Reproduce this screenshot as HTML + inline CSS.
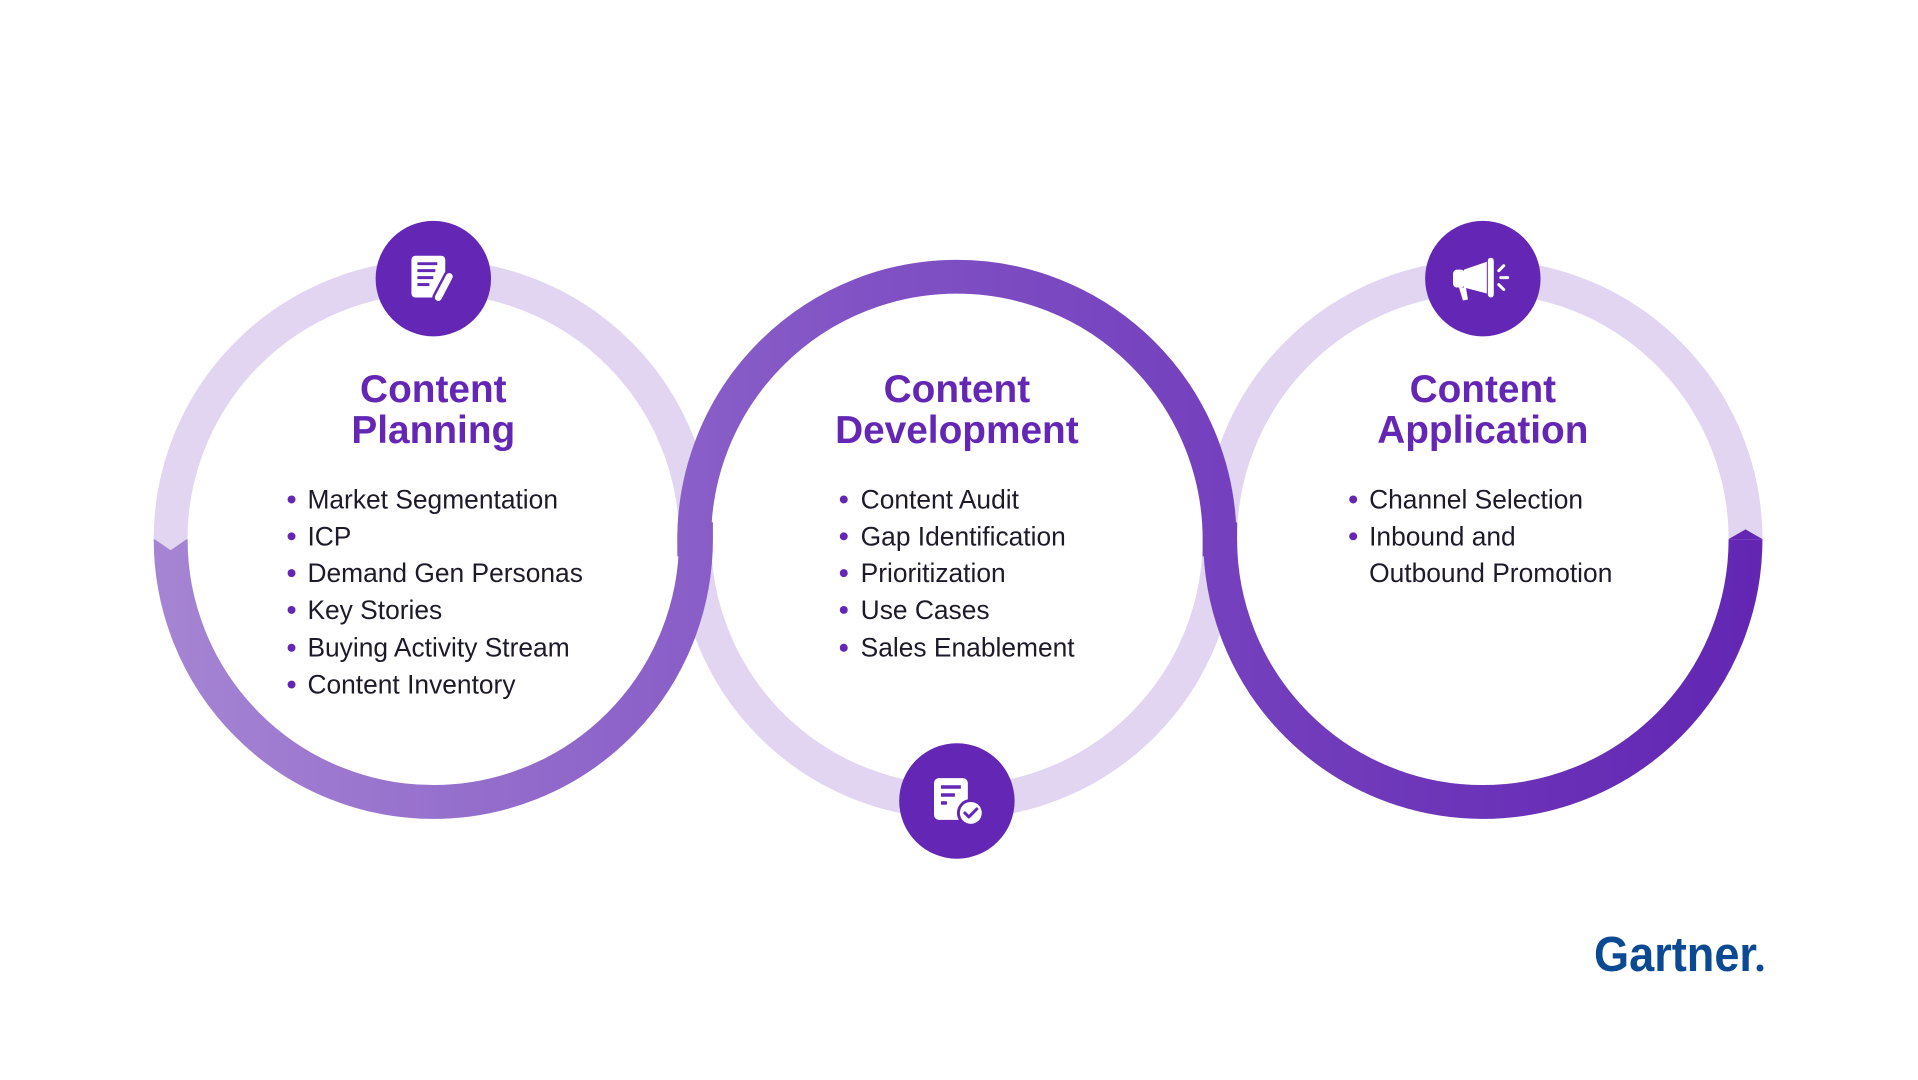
<!DOCTYPE html>
<html><head><meta charset="utf-8"><style>
html,body{margin:0;padding:0;background:#fff;}
body{width:1918px;height:1080px;overflow:hidden;position:relative;font-family:"Liberation Sans",sans-serif;}
svg{position:absolute;left:0;top:0;}
.t{font-family:"Liberation Sans",sans-serif;font-weight:bold;font-size:39px;fill:#6427b5;text-anchor:middle;}
.b{font-family:"Liberation Sans",sans-serif;font-size:26.5px;fill:#1e1a2a;}
</style></head><body>
<svg width="1918" height="1080" viewBox="0 0 1918 1080">
<defs>
<linearGradient id="g" gradientUnits="userSpaceOnUse" x1="155" y1="0" x2="1772" y2="0">
<stop offset="0" stop-color="#a585d3"/>
<stop offset="0.45" stop-color="#8051c4"/>
<stop offset="1" stop-color="#6226b3"/>
</linearGradient>
</defs>
<g transform="translate(-1,1) scale(0.995)">
<g fill="none" stroke="#e1d5f1" stroke-width="34">
<circle cx="436.5" cy="541" r="264"/>
<circle cx="962.7" cy="541" r="264"/>
<circle cx="1491.3" cy="541" r="264"/>
</g>
<path d="M172.5 541 A264 264 0 0 0 700.5 541 L698.7 541 A264 264 0 0 1 1226.7 541 L1227.3 541 A264 264 0 0 0 1755.3 541" fill="none" stroke="url(#g)" stroke-width="34"/>
<polygon points="155,540 190,540 172.5,552" fill="#e1d5f1"/>
<polygon points="1738,541 1772.5,541 1755.3,531" fill="#6226b3"/>
<circle cx="436.5" cy="279" r="58" fill="#6427b5"/>
<circle cx="1491.3" cy="279" r="58" fill="#6427b5"/>
<circle cx="962.7" cy="804" r="58" fill="#6427b5"/>
<g transform="translate(436.5,279)">
<rect x="-22" y="-23" width="34" height="42" rx="4" fill="#fff"/>
<g stroke="#6427b5" stroke-width="3"><line x1="-16" y1="-15" x2="4" y2="-15"/><line x1="-16" y1="-8" x2="2" y2="-8"/><line x1="-16" y1="-1" x2="0" y2="-1"/><line x1="-16" y1="6" x2="-4" y2="6"/></g>
<line x1="16" y1="-2" x2="5" y2="19" stroke="#6427b5" stroke-width="12" stroke-linecap="round"/>
<line x1="16" y1="-2" x2="5" y2="19" stroke="#fff" stroke-width="7" stroke-linecap="round"/>
</g>
<g transform="translate(1491.3,279)" fill="#fff">
<rect x="-30" y="-9" width="12" height="18" rx="4"/>
<polygon points="-19,-9 4,-17 4,15 -19,9"/>
<rect x="5" y="-21" width="6" height="40" rx="3"/>
<polygon points="-24,9 -17,9 -15,21 -20,22"/>
<g stroke="#fff" stroke-width="3" stroke-linecap="round"><line x1="16" y1="-8" x2="21" y2="-13"/><line x1="18" y1="-1" x2="25" y2="-1"/><line x1="16" y1="6" x2="21" y2="11"/></g>
</g>
<g transform="translate(962.7,804)">
<rect x="-23" y="-23" width="34" height="42" rx="5" fill="#fff"/>
<g stroke="#6427b5" stroke-width="3.5"><line x1="-16" y1="-14" x2="4" y2="-14"/><line x1="-16" y1="-6" x2="-2" y2="-6"/><line x1="-16" y1="2" x2="-10" y2="2"/></g>
<circle cx="14" cy="12" r="14" fill="#6427b5"/>
<circle cx="14" cy="12" r="11" fill="#fff"/>
<polyline points="8,12 12,16 20,8" fill="none" stroke="#6427b5" stroke-width="3" stroke-linecap="round" stroke-linejoin="round"/>
</g>
<text class="t" x="436.5" y="403">Content</text><text class="t" x="436.5" y="444">Planning</text>
<text class="t" x="962.7" y="403">Content</text><text class="t" x="962.7" y="444">Development</text>
<text class="t" x="1491.3" y="403">Content</text><text class="t" x="1491.3" y="444">Application</text>
<g fill="#6427b5">
<circle cx="294" cy="501" r="4"/><circle cx="294" cy="538" r="4"/><circle cx="294" cy="575" r="4"/><circle cx="294" cy="612" r="4"/><circle cx="294" cy="650" r="4"/><circle cx="294" cy="687" r="4"/>
<circle cx="849" cy="501" r="4"/><circle cx="849" cy="538" r="4"/><circle cx="849" cy="575" r="4"/><circle cx="849" cy="612" r="4"/><circle cx="849" cy="650" r="4"/>
<circle cx="1361" cy="501" r="4"/><circle cx="1361" cy="538" r="4"/>
</g>
<text class="b" x="310" y="510">Market Segmentation</text>
<text class="b" x="310" y="547">ICP</text>
<text class="b" x="310" y="584">Demand Gen Personas</text>
<text class="b" x="310" y="621">Key Stories</text>
<text class="b" x="310" y="659">Buying Activity Stream</text>
<text class="b" x="310" y="696">Content Inventory</text>
<text class="b" x="866" y="510">Content Audit</text>
<text class="b" x="866" y="547">Gap Identification</text>
<text class="b" x="866" y="584">Prioritization</text>
<text class="b" x="866" y="621">Use Cases</text>
<text class="b" x="866" y="659">Sales Enablement</text>
<text class="b" x="1377" y="510">Channel Selection</text>
<text class="b" x="1377" y="547">Inbound and</text>
<text class="b" x="1377" y="584">Outbound Promotion</text>
</g>
<text x="1594" y="971" font-family="Liberation Sans, sans-serif" font-weight="bold" font-size="49" fill="#0b4a92" textLength="163" lengthAdjust="spacingAndGlyphs">Gartner</text>
<circle cx="1760" cy="968" r="3.5" fill="#0b4a92"/>
</svg>
</body></html>
